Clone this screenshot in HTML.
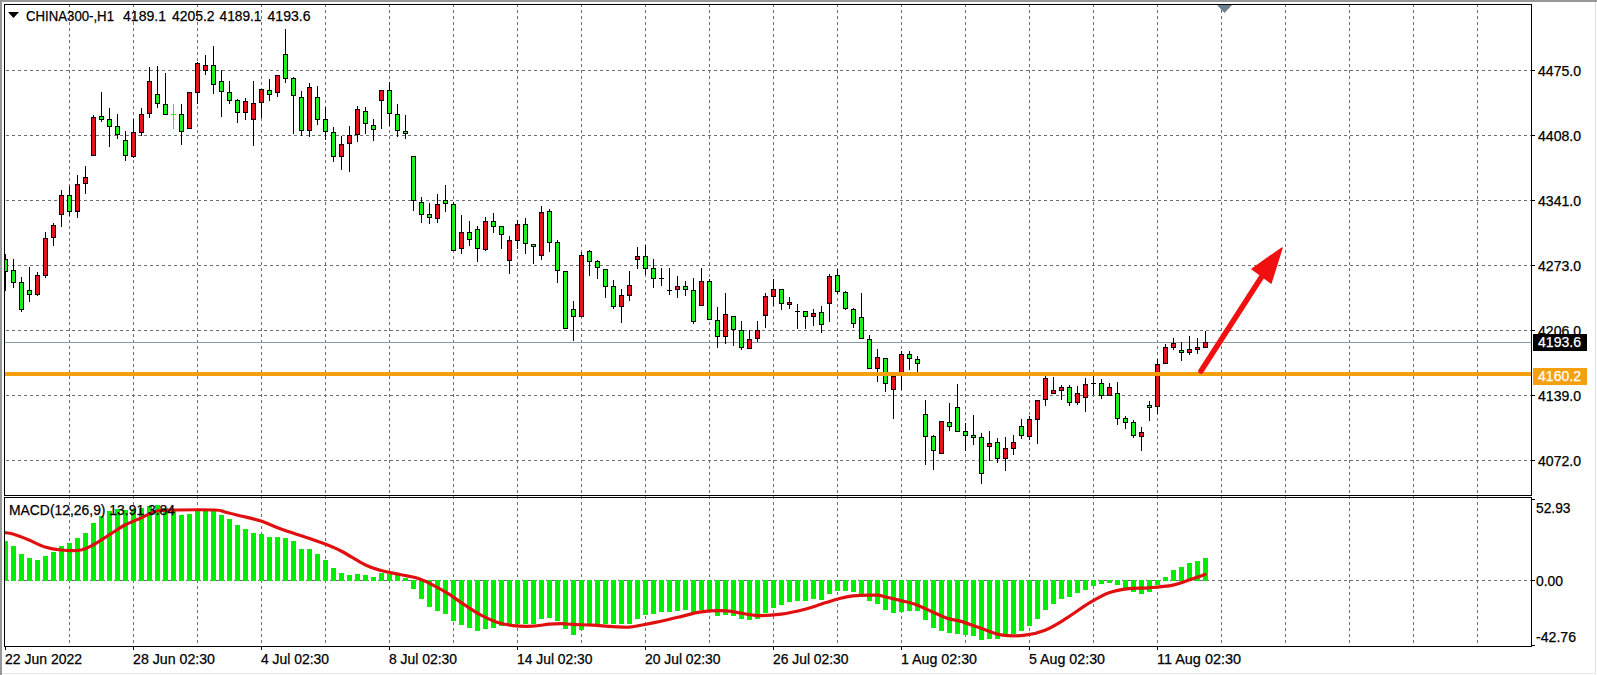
<!DOCTYPE html><html><head><meta charset="utf-8"><style>
html,body{margin:0;padding:0;background:#fff;width:1597px;height:675px;overflow:hidden}
svg{display:block}
text{font-family:"Liberation Sans",sans-serif;fill:#000}
</style></head><body>
<svg width="1597" height="675" viewBox="0 0 1597 675">
<rect x="0" y="0" width="1597" height="675" fill="#fff"/>
<g shape-rendering="crispEdges">
<rect x="0" y="0" width="1597" height="2" fill="#989898"/>
<rect x="0" y="0" width="2" height="675" fill="#989898"/>
<rect x="1595" y="2" width="1" height="672" fill="#e0e0e0"/>
<rect x="2" y="673" width="1594" height="1" fill="#e6e6e6"/>
</g>
<g shape-rendering="crispEdges" stroke="#6e6e6e" stroke-width="1" stroke-dasharray="3 3">
<line x1="69.5" y1="4" x2="69.5" y2="495"/>
<line x1="69.5" y1="496" x2="69.5" y2="646"/>
<line x1="133.5" y1="4" x2="133.5" y2="495"/>
<line x1="133.5" y1="496" x2="133.5" y2="646"/>
<line x1="197.5" y1="4" x2="197.5" y2="495"/>
<line x1="197.5" y1="496" x2="197.5" y2="646"/>
<line x1="261.5" y1="4" x2="261.5" y2="495"/>
<line x1="261.5" y1="496" x2="261.5" y2="646"/>
<line x1="325.5" y1="4" x2="325.5" y2="495"/>
<line x1="325.5" y1="496" x2="325.5" y2="646"/>
<line x1="389.5" y1="4" x2="389.5" y2="495"/>
<line x1="389.5" y1="496" x2="389.5" y2="646"/>
<line x1="453.5" y1="4" x2="453.5" y2="495"/>
<line x1="453.5" y1="496" x2="453.5" y2="646"/>
<line x1="517.5" y1="4" x2="517.5" y2="495"/>
<line x1="517.5" y1="496" x2="517.5" y2="646"/>
<line x1="581.5" y1="4" x2="581.5" y2="495"/>
<line x1="581.5" y1="496" x2="581.5" y2="646"/>
<line x1="645.5" y1="4" x2="645.5" y2="495"/>
<line x1="645.5" y1="496" x2="645.5" y2="646"/>
<line x1="709.5" y1="4" x2="709.5" y2="495"/>
<line x1="709.5" y1="496" x2="709.5" y2="646"/>
<line x1="773.5" y1="4" x2="773.5" y2="495"/>
<line x1="773.5" y1="496" x2="773.5" y2="646"/>
<line x1="837.5" y1="4" x2="837.5" y2="495"/>
<line x1="837.5" y1="496" x2="837.5" y2="646"/>
<line x1="901.5" y1="4" x2="901.5" y2="495"/>
<line x1="901.5" y1="496" x2="901.5" y2="646"/>
<line x1="965.5" y1="4" x2="965.5" y2="495"/>
<line x1="965.5" y1="496" x2="965.5" y2="646"/>
<line x1="1029.5" y1="4" x2="1029.5" y2="495"/>
<line x1="1029.5" y1="496" x2="1029.5" y2="646"/>
<line x1="1093.5" y1="4" x2="1093.5" y2="495"/>
<line x1="1093.5" y1="496" x2="1093.5" y2="646"/>
<line x1="1157.5" y1="4" x2="1157.5" y2="495"/>
<line x1="1157.5" y1="496" x2="1157.5" y2="646"/>
<line x1="1221.5" y1="4" x2="1221.5" y2="495"/>
<line x1="1221.5" y1="496" x2="1221.5" y2="646"/>
<line x1="1285.5" y1="4" x2="1285.5" y2="495"/>
<line x1="1285.5" y1="496" x2="1285.5" y2="646"/>
<line x1="1349.5" y1="4" x2="1349.5" y2="495"/>
<line x1="1349.5" y1="496" x2="1349.5" y2="646"/>
<line x1="1413.5" y1="4" x2="1413.5" y2="495"/>
<line x1="1413.5" y1="496" x2="1413.5" y2="646"/>
<line x1="1477.5" y1="4" x2="1477.5" y2="495"/>
<line x1="1477.5" y1="496" x2="1477.5" y2="646"/>
<line x1="6" y1="70.5" x2="1531" y2="70.5"/>
<line x1="6" y1="135.5" x2="1531" y2="135.5"/>
<line x1="6" y1="200.5" x2="1531" y2="200.5"/>
<line x1="6" y1="265.5" x2="1531" y2="265.5"/>
<line x1="6" y1="330.5" x2="1531" y2="330.5"/>
<line x1="6" y1="395.5" x2="1531" y2="395.5"/>
<line x1="6" y1="460.5" x2="1531" y2="460.5"/>
<line x1="6" y1="580.5" x2="1531" y2="580.5"/>
</g>
<rect x="5" y="342" width="1526" height="1" fill="#8c9aa6" shape-rendering="crispEdges"/>
<defs><clipPath id="cm"><rect x="5" y="5" width="1526" height="490"/></clipPath>
<clipPath id="cd"><rect x="5" y="498" width="1526" height="148"/></clipPath></defs>
<g clip-path="url(#cm)" shape-rendering="crispEdges">
<rect x="5" y="254" width="1" height="37" fill="#000"/>
<rect x="3" y="259" width="5" height="13" fill="#000"/>
<rect x="4" y="260" width="3" height="11" fill="#1ef01e"/>
<rect x="13" y="259" width="1" height="29" fill="#000"/>
<rect x="11" y="270" width="5" height="13" fill="#000"/>
<rect x="12" y="271" width="3" height="11" fill="#1ef01e"/>
<rect x="21" y="277" width="1" height="35" fill="#000"/>
<rect x="19" y="282" width="5" height="28" fill="#000"/>
<rect x="20" y="283" width="3" height="26" fill="#1ef01e"/>
<rect x="29" y="267" width="1" height="35" fill="#000"/>
<rect x="27" y="290" width="5" height="5" fill="#000"/>
<rect x="28" y="291" width="3" height="3" fill="#1ef01e"/>
<rect x="37" y="272" width="1" height="24" fill="#000"/>
<rect x="35" y="275" width="5" height="20" fill="#000"/>
<rect x="36" y="276" width="3" height="18" fill="#e8121c"/>
<rect x="45" y="232" width="1" height="46" fill="#000"/>
<rect x="43" y="238" width="5" height="38" fill="#000"/>
<rect x="44" y="239" width="3" height="36" fill="#e8121c"/>
<rect x="53" y="223" width="1" height="23" fill="#000"/>
<rect x="51" y="225" width="5" height="13" fill="#000"/>
<rect x="52" y="226" width="3" height="11" fill="#e8121c"/>
<rect x="61" y="190" width="1" height="37" fill="#000"/>
<rect x="59" y="195" width="5" height="20" fill="#000"/>
<rect x="60" y="196" width="3" height="18" fill="#e8121c"/>
<rect x="69" y="186" width="1" height="30" fill="#000"/>
<rect x="67" y="195" width="5" height="17" fill="#000"/>
<rect x="68" y="196" width="3" height="15" fill="#1ef01e"/>
<rect x="77" y="175" width="1" height="43" fill="#000"/>
<rect x="75" y="184" width="5" height="28" fill="#000"/>
<rect x="76" y="185" width="3" height="26" fill="#e8121c"/>
<rect x="85" y="166" width="1" height="28" fill="#000"/>
<rect x="83" y="177" width="5" height="7" fill="#000"/>
<rect x="84" y="178" width="3" height="5" fill="#e8121c"/>
<rect x="93" y="115" width="1" height="41" fill="#000"/>
<rect x="91" y="117" width="5" height="39" fill="#000"/>
<rect x="92" y="118" width="3" height="37" fill="#e8121c"/>
<rect x="101" y="92" width="1" height="30" fill="#000"/>
<rect x="99" y="116" width="5" height="4" fill="#000"/>
<rect x="100" y="117" width="3" height="2" fill="#1ef01e"/>
<rect x="109" y="108" width="1" height="39" fill="#000"/>
<rect x="107" y="119" width="5" height="8" fill="#000"/>
<rect x="108" y="120" width="3" height="6" fill="#1ef01e"/>
<rect x="117" y="114" width="1" height="25" fill="#000"/>
<rect x="115" y="126" width="5" height="9" fill="#000"/>
<rect x="116" y="127" width="3" height="7" fill="#1ef01e"/>
<rect x="125" y="131" width="1" height="30" fill="#000"/>
<rect x="123" y="140" width="5" height="16" fill="#000"/>
<rect x="124" y="141" width="3" height="14" fill="#1ef01e"/>
<rect x="133" y="119" width="1" height="39" fill="#000"/>
<rect x="131" y="132" width="5" height="25" fill="#000"/>
<rect x="132" y="133" width="3" height="23" fill="#e8121c"/>
<rect x="141" y="108" width="1" height="28" fill="#000"/>
<rect x="139" y="114" width="5" height="19" fill="#000"/>
<rect x="140" y="115" width="3" height="17" fill="#e8121c"/>
<rect x="149" y="67" width="1" height="51" fill="#000"/>
<rect x="147" y="81" width="5" height="33" fill="#000"/>
<rect x="148" y="82" width="3" height="31" fill="#e8121c"/>
<rect x="157" y="66" width="1" height="42" fill="#000"/>
<rect x="155" y="94" width="5" height="10" fill="#000"/>
<rect x="156" y="95" width="3" height="8" fill="#1ef01e"/>
<rect x="165" y="73" width="1" height="42" fill="#000"/>
<rect x="163" y="104" width="5" height="11" fill="#000"/>
<rect x="164" y="105" width="3" height="9" fill="#1ef01e"/>
<rect x="173" y="104" width="1" height="25" fill="#1ef01e"/>
<rect x="171" y="114" width="5" height="1" fill="#1ef01e"/>
<rect x="181" y="104" width="1" height="41" fill="#000"/>
<rect x="179" y="114" width="5" height="18" fill="#000"/>
<rect x="180" y="115" width="3" height="16" fill="#1ef01e"/>
<rect x="189" y="92" width="1" height="37" fill="#000"/>
<rect x="187" y="92" width="5" height="37" fill="#000"/>
<rect x="188" y="93" width="3" height="35" fill="#e8121c"/>
<rect x="197" y="62" width="1" height="42" fill="#000"/>
<rect x="195" y="63" width="5" height="30" fill="#000"/>
<rect x="196" y="64" width="3" height="28" fill="#e8121c"/>
<rect x="205" y="55" width="1" height="20" fill="#000"/>
<rect x="203" y="65" width="5" height="6" fill="#000"/>
<rect x="204" y="66" width="3" height="4" fill="#e8121c"/>
<rect x="213" y="46" width="1" height="48" fill="#000"/>
<rect x="211" y="65" width="5" height="20" fill="#000"/>
<rect x="212" y="66" width="3" height="18" fill="#1ef01e"/>
<rect x="221" y="70" width="1" height="47" fill="#000"/>
<rect x="219" y="81" width="5" height="11" fill="#000"/>
<rect x="220" y="82" width="3" height="9" fill="#1ef01e"/>
<rect x="229" y="81" width="1" height="23" fill="#000"/>
<rect x="227" y="92" width="5" height="9" fill="#000"/>
<rect x="228" y="93" width="3" height="7" fill="#1ef01e"/>
<rect x="237" y="99" width="1" height="24" fill="#000"/>
<rect x="235" y="100" width="5" height="13" fill="#000"/>
<rect x="236" y="101" width="3" height="11" fill="#1ef01e"/>
<rect x="245" y="98" width="1" height="22" fill="#000"/>
<rect x="243" y="101" width="5" height="12" fill="#000"/>
<rect x="244" y="102" width="3" height="10" fill="#e8121c"/>
<rect x="253" y="81" width="1" height="65" fill="#000"/>
<rect x="251" y="103" width="5" height="17" fill="#000"/>
<rect x="252" y="104" width="3" height="15" fill="#e8121c"/>
<rect x="261" y="89" width="1" height="29" fill="#000"/>
<rect x="259" y="89" width="5" height="14" fill="#000"/>
<rect x="260" y="90" width="3" height="12" fill="#e8121c"/>
<rect x="269" y="79" width="1" height="22" fill="#000"/>
<rect x="267" y="90" width="5" height="5" fill="#000"/>
<rect x="268" y="91" width="3" height="3" fill="#1ef01e"/>
<rect x="277" y="75" width="1" height="22" fill="#000"/>
<rect x="275" y="75" width="5" height="18" fill="#000"/>
<rect x="276" y="76" width="3" height="16" fill="#e8121c"/>
<rect x="285" y="29" width="1" height="54" fill="#000"/>
<rect x="283" y="54" width="5" height="25" fill="#000"/>
<rect x="284" y="55" width="3" height="23" fill="#1ef01e"/>
<rect x="293" y="77" width="1" height="57" fill="#000"/>
<rect x="291" y="78" width="5" height="18" fill="#000"/>
<rect x="292" y="79" width="3" height="16" fill="#1ef01e"/>
<rect x="301" y="91" width="1" height="45" fill="#000"/>
<rect x="299" y="97" width="5" height="34" fill="#000"/>
<rect x="300" y="98" width="3" height="32" fill="#1ef01e"/>
<rect x="309" y="83" width="1" height="54" fill="#000"/>
<rect x="307" y="87" width="5" height="44" fill="#000"/>
<rect x="308" y="88" width="3" height="42" fill="#e8121c"/>
<rect x="317" y="86" width="1" height="39" fill="#000"/>
<rect x="315" y="97" width="5" height="23" fill="#000"/>
<rect x="316" y="98" width="3" height="21" fill="#1ef01e"/>
<rect x="325" y="107" width="1" height="33" fill="#000"/>
<rect x="323" y="119" width="5" height="13" fill="#000"/>
<rect x="324" y="120" width="3" height="11" fill="#1ef01e"/>
<rect x="333" y="127" width="1" height="35" fill="#000"/>
<rect x="331" y="132" width="5" height="25" fill="#000"/>
<rect x="332" y="133" width="3" height="23" fill="#1ef01e"/>
<rect x="341" y="136" width="1" height="34" fill="#000"/>
<rect x="339" y="144" width="5" height="13" fill="#000"/>
<rect x="340" y="145" width="3" height="11" fill="#e8121c"/>
<rect x="349" y="126" width="1" height="46" fill="#000"/>
<rect x="347" y="135" width="5" height="9" fill="#000"/>
<rect x="348" y="136" width="3" height="7" fill="#e8121c"/>
<rect x="357" y="106" width="1" height="36" fill="#000"/>
<rect x="355" y="109" width="5" height="26" fill="#000"/>
<rect x="356" y="110" width="3" height="24" fill="#e8121c"/>
<rect x="365" y="107" width="1" height="27" fill="#000"/>
<rect x="363" y="111" width="5" height="13" fill="#000"/>
<rect x="364" y="112" width="3" height="11" fill="#1ef01e"/>
<rect x="373" y="119" width="1" height="22" fill="#000"/>
<rect x="371" y="125" width="5" height="5" fill="#000"/>
<rect x="372" y="126" width="3" height="3" fill="#1ef01e"/>
<rect x="381" y="90" width="1" height="39" fill="#000"/>
<rect x="379" y="90" width="5" height="11" fill="#000"/>
<rect x="380" y="91" width="3" height="9" fill="#e8121c"/>
<rect x="389" y="82" width="1" height="44" fill="#000"/>
<rect x="387" y="90" width="5" height="24" fill="#000"/>
<rect x="388" y="91" width="3" height="22" fill="#1ef01e"/>
<rect x="397" y="104" width="1" height="33" fill="#000"/>
<rect x="395" y="114" width="5" height="17" fill="#000"/>
<rect x="396" y="115" width="3" height="15" fill="#1ef01e"/>
<rect x="405" y="115" width="1" height="24" fill="#000"/>
<rect x="403" y="131" width="5" height="3" fill="#000"/>
<rect x="404" y="132" width="3" height="1" fill="#1ef01e"/>
<rect x="413" y="156" width="1" height="55" fill="#000"/>
<rect x="411" y="156" width="5" height="45" fill="#000"/>
<rect x="412" y="157" width="3" height="43" fill="#1ef01e"/>
<rect x="421" y="197" width="1" height="26" fill="#000"/>
<rect x="419" y="202" width="5" height="13" fill="#000"/>
<rect x="420" y="203" width="3" height="11" fill="#1ef01e"/>
<rect x="429" y="203" width="1" height="21" fill="#000"/>
<rect x="427" y="214" width="5" height="4" fill="#000"/>
<rect x="428" y="215" width="3" height="2" fill="#1ef01e"/>
<rect x="437" y="194" width="1" height="29" fill="#000"/>
<rect x="435" y="204" width="5" height="15" fill="#000"/>
<rect x="436" y="205" width="3" height="13" fill="#e8121c"/>
<rect x="445" y="185" width="1" height="27" fill="#000"/>
<rect x="443" y="200" width="5" height="4" fill="#000"/>
<rect x="444" y="201" width="3" height="2" fill="#1ef01e"/>
<rect x="453" y="202" width="1" height="49" fill="#000"/>
<rect x="451" y="204" width="5" height="47" fill="#000"/>
<rect x="452" y="205" width="3" height="45" fill="#1ef01e"/>
<rect x="461" y="215" width="1" height="39" fill="#000"/>
<rect x="459" y="232" width="5" height="17" fill="#000"/>
<rect x="460" y="233" width="3" height="15" fill="#e8121c"/>
<rect x="469" y="221" width="1" height="25" fill="#000"/>
<rect x="467" y="232" width="5" height="8" fill="#000"/>
<rect x="468" y="233" width="3" height="6" fill="#1ef01e"/>
<rect x="477" y="226" width="1" height="36" fill="#000"/>
<rect x="475" y="229" width="5" height="20" fill="#000"/>
<rect x="476" y="230" width="3" height="18" fill="#1ef01e"/>
<rect x="485" y="217" width="1" height="34" fill="#000"/>
<rect x="483" y="221" width="5" height="29" fill="#000"/>
<rect x="484" y="222" width="3" height="27" fill="#e8121c"/>
<rect x="493" y="213" width="1" height="20" fill="#000"/>
<rect x="491" y="221" width="5" height="6" fill="#000"/>
<rect x="492" y="222" width="3" height="4" fill="#1ef01e"/>
<rect x="501" y="226" width="1" height="23" fill="#000"/>
<rect x="499" y="226" width="5" height="9" fill="#000"/>
<rect x="500" y="227" width="3" height="7" fill="#1ef01e"/>
<rect x="509" y="236" width="1" height="38" fill="#000"/>
<rect x="507" y="240" width="5" height="21" fill="#000"/>
<rect x="508" y="241" width="3" height="19" fill="#e8121c"/>
<rect x="517" y="220" width="1" height="29" fill="#000"/>
<rect x="515" y="224" width="5" height="17" fill="#000"/>
<rect x="516" y="225" width="3" height="15" fill="#e8121c"/>
<rect x="525" y="218" width="1" height="36" fill="#000"/>
<rect x="523" y="224" width="5" height="20" fill="#000"/>
<rect x="524" y="225" width="3" height="18" fill="#1ef01e"/>
<rect x="533" y="244" width="1" height="20" fill="#000"/>
<rect x="531" y="244" width="5" height="3" fill="#000"/>
<rect x="532" y="245" width="3" height="1" fill="#1ef01e"/>
<rect x="541" y="206" width="1" height="54" fill="#000"/>
<rect x="539" y="212" width="5" height="44" fill="#000"/>
<rect x="540" y="213" width="3" height="42" fill="#e8121c"/>
<rect x="549" y="209" width="1" height="43" fill="#000"/>
<rect x="547" y="211" width="5" height="32" fill="#000"/>
<rect x="548" y="212" width="3" height="30" fill="#1ef01e"/>
<rect x="557" y="240" width="1" height="43" fill="#000"/>
<rect x="555" y="242" width="5" height="29" fill="#000"/>
<rect x="556" y="243" width="3" height="27" fill="#1ef01e"/>
<rect x="565" y="271" width="1" height="58" fill="#000"/>
<rect x="563" y="271" width="5" height="58" fill="#000"/>
<rect x="564" y="272" width="3" height="56" fill="#1ef01e"/>
<rect x="573" y="301" width="1" height="40" fill="#000"/>
<rect x="571" y="309" width="5" height="8" fill="#000"/>
<rect x="572" y="310" width="3" height="6" fill="#1ef01e"/>
<rect x="581" y="252" width="1" height="65" fill="#000"/>
<rect x="579" y="255" width="5" height="62" fill="#000"/>
<rect x="580" y="256" width="3" height="60" fill="#e8121c"/>
<rect x="589" y="250" width="1" height="26" fill="#000"/>
<rect x="587" y="251" width="5" height="11" fill="#000"/>
<rect x="588" y="252" width="3" height="9" fill="#1ef01e"/>
<rect x="597" y="260" width="1" height="19" fill="#000"/>
<rect x="595" y="261" width="5" height="7" fill="#000"/>
<rect x="596" y="262" width="3" height="5" fill="#1ef01e"/>
<rect x="605" y="269" width="1" height="29" fill="#000"/>
<rect x="603" y="269" width="5" height="18" fill="#000"/>
<rect x="604" y="270" width="3" height="16" fill="#1ef01e"/>
<rect x="613" y="280" width="1" height="29" fill="#000"/>
<rect x="611" y="286" width="5" height="21" fill="#000"/>
<rect x="612" y="287" width="3" height="19" fill="#1ef01e"/>
<rect x="621" y="289" width="1" height="34" fill="#000"/>
<rect x="619" y="295" width="5" height="12" fill="#000"/>
<rect x="620" y="296" width="3" height="10" fill="#e8121c"/>
<rect x="629" y="271" width="1" height="30" fill="#000"/>
<rect x="627" y="285" width="5" height="11" fill="#000"/>
<rect x="628" y="286" width="3" height="9" fill="#e8121c"/>
<rect x="637" y="247" width="1" height="22" fill="#000"/>
<rect x="635" y="256" width="5" height="4" fill="#000"/>
<rect x="636" y="257" width="3" height="2" fill="#e8121c"/>
<rect x="645" y="245" width="1" height="30" fill="#000"/>
<rect x="643" y="256" width="5" height="13" fill="#000"/>
<rect x="644" y="257" width="3" height="11" fill="#1ef01e"/>
<rect x="653" y="259" width="1" height="29" fill="#000"/>
<rect x="651" y="268" width="5" height="11" fill="#000"/>
<rect x="652" y="269" width="3" height="9" fill="#1ef01e"/>
<rect x="661" y="268" width="1" height="18" fill="#000"/>
<rect x="659" y="278" width="5" height="1" fill="#000"/>
<rect x="669" y="268" width="1" height="27" fill="#000"/>
<rect x="667" y="290" width="5" height="1" fill="#000"/>
<rect x="677" y="276" width="1" height="22" fill="#000"/>
<rect x="675" y="286" width="5" height="4" fill="#000"/>
<rect x="676" y="287" width="3" height="2" fill="#e8121c"/>
<rect x="685" y="281" width="1" height="15" fill="#000"/>
<rect x="683" y="286" width="5" height="4" fill="#000"/>
<rect x="684" y="287" width="3" height="2" fill="#1ef01e"/>
<rect x="693" y="278" width="1" height="46" fill="#000"/>
<rect x="691" y="290" width="5" height="32" fill="#000"/>
<rect x="692" y="291" width="3" height="30" fill="#1ef01e"/>
<rect x="701" y="268" width="1" height="38" fill="#000"/>
<rect x="699" y="281" width="5" height="25" fill="#000"/>
<rect x="700" y="282" width="3" height="23" fill="#e8121c"/>
<rect x="709" y="279" width="1" height="41" fill="#000"/>
<rect x="707" y="281" width="5" height="39" fill="#000"/>
<rect x="708" y="282" width="3" height="37" fill="#1ef01e"/>
<rect x="717" y="307" width="1" height="41" fill="#000"/>
<rect x="715" y="320" width="5" height="17" fill="#000"/>
<rect x="716" y="321" width="3" height="15" fill="#1ef01e"/>
<rect x="725" y="293" width="1" height="51" fill="#000"/>
<rect x="723" y="314" width="5" height="23" fill="#000"/>
<rect x="724" y="315" width="3" height="21" fill="#e8121c"/>
<rect x="733" y="316" width="1" height="30" fill="#000"/>
<rect x="731" y="316" width="5" height="14" fill="#000"/>
<rect x="732" y="317" width="3" height="12" fill="#1ef01e"/>
<rect x="741" y="321" width="1" height="29" fill="#000"/>
<rect x="739" y="330" width="5" height="18" fill="#000"/>
<rect x="740" y="331" width="3" height="16" fill="#1ef01e"/>
<rect x="749" y="330" width="1" height="19" fill="#000"/>
<rect x="747" y="339" width="5" height="10" fill="#000"/>
<rect x="748" y="340" width="3" height="8" fill="#e8121c"/>
<rect x="757" y="321" width="1" height="21" fill="#000"/>
<rect x="755" y="330" width="5" height="9" fill="#000"/>
<rect x="756" y="331" width="3" height="7" fill="#e8121c"/>
<rect x="765" y="293" width="1" height="35" fill="#000"/>
<rect x="763" y="296" width="5" height="20" fill="#000"/>
<rect x="764" y="297" width="3" height="18" fill="#e8121c"/>
<rect x="773" y="279" width="1" height="27" fill="#000"/>
<rect x="771" y="289" width="5" height="8" fill="#000"/>
<rect x="772" y="290" width="3" height="6" fill="#e8121c"/>
<rect x="781" y="289" width="1" height="21" fill="#000"/>
<rect x="779" y="289" width="5" height="15" fill="#000"/>
<rect x="780" y="290" width="3" height="13" fill="#1ef01e"/>
<rect x="789" y="297" width="1" height="12" fill="#000"/>
<rect x="787" y="302" width="5" height="3" fill="#000"/>
<rect x="788" y="303" width="3" height="1" fill="#e8121c"/>
<rect x="797" y="304" width="1" height="25" fill="#000"/>
<rect x="795" y="311" width="5" height="1" fill="#000"/>
<rect x="805" y="311" width="1" height="18" fill="#000"/>
<rect x="803" y="311" width="5" height="6" fill="#000"/>
<rect x="804" y="312" width="3" height="4" fill="#1ef01e"/>
<rect x="813" y="309" width="1" height="17" fill="#000"/>
<rect x="811" y="313" width="5" height="4" fill="#000"/>
<rect x="812" y="314" width="3" height="2" fill="#e8121c"/>
<rect x="821" y="306" width="1" height="27" fill="#000"/>
<rect x="819" y="312" width="5" height="13" fill="#000"/>
<rect x="820" y="313" width="3" height="11" fill="#1ef01e"/>
<rect x="829" y="274" width="1" height="48" fill="#000"/>
<rect x="827" y="276" width="5" height="28" fill="#000"/>
<rect x="828" y="277" width="3" height="26" fill="#e8121c"/>
<rect x="837" y="269" width="1" height="25" fill="#000"/>
<rect x="835" y="275" width="5" height="17" fill="#000"/>
<rect x="836" y="276" width="3" height="15" fill="#1ef01e"/>
<rect x="845" y="291" width="1" height="19" fill="#000"/>
<rect x="843" y="292" width="5" height="17" fill="#000"/>
<rect x="844" y="293" width="3" height="15" fill="#1ef01e"/>
<rect x="853" y="308" width="1" height="20" fill="#000"/>
<rect x="851" y="309" width="5" height="15" fill="#000"/>
<rect x="852" y="310" width="3" height="13" fill="#1ef01e"/>
<rect x="861" y="293" width="1" height="46" fill="#000"/>
<rect x="859" y="317" width="5" height="22" fill="#000"/>
<rect x="860" y="318" width="3" height="20" fill="#1ef01e"/>
<rect x="869" y="335" width="1" height="34" fill="#000"/>
<rect x="867" y="339" width="5" height="30" fill="#000"/>
<rect x="868" y="340" width="3" height="28" fill="#1ef01e"/>
<rect x="877" y="349" width="1" height="33" fill="#000"/>
<rect x="875" y="357" width="5" height="12" fill="#000"/>
<rect x="876" y="358" width="3" height="10" fill="#e8121c"/>
<rect x="885" y="358" width="1" height="34" fill="#000"/>
<rect x="883" y="358" width="5" height="26" fill="#000"/>
<rect x="884" y="359" width="3" height="24" fill="#1ef01e"/>
<rect x="893" y="376" width="1" height="43" fill="#000"/>
<rect x="891" y="376" width="5" height="14" fill="#000"/>
<rect x="892" y="377" width="3" height="12" fill="#e8121c"/>
<rect x="901" y="351" width="1" height="39" fill="#000"/>
<rect x="899" y="354" width="5" height="22" fill="#000"/>
<rect x="900" y="355" width="3" height="20" fill="#e8121c"/>
<rect x="909" y="351" width="1" height="19" fill="#000"/>
<rect x="907" y="354" width="5" height="5" fill="#000"/>
<rect x="908" y="355" width="3" height="3" fill="#1ef01e"/>
<rect x="917" y="356" width="1" height="16" fill="#000"/>
<rect x="915" y="359" width="5" height="5" fill="#000"/>
<rect x="916" y="360" width="3" height="3" fill="#1ef01e"/>
<rect x="925" y="400" width="1" height="65" fill="#000"/>
<rect x="923" y="414" width="5" height="23" fill="#000"/>
<rect x="924" y="415" width="3" height="21" fill="#1ef01e"/>
<rect x="933" y="435" width="1" height="35" fill="#000"/>
<rect x="931" y="436" width="5" height="15" fill="#000"/>
<rect x="932" y="437" width="3" height="13" fill="#1ef01e"/>
<rect x="941" y="421" width="1" height="33" fill="#000"/>
<rect x="939" y="421" width="5" height="33" fill="#000"/>
<rect x="940" y="422" width="3" height="31" fill="#e8121c"/>
<rect x="949" y="403" width="1" height="28" fill="#000"/>
<rect x="947" y="422" width="5" height="5" fill="#000"/>
<rect x="948" y="423" width="3" height="3" fill="#1ef01e"/>
<rect x="957" y="384" width="1" height="48" fill="#000"/>
<rect x="955" y="407" width="5" height="25" fill="#000"/>
<rect x="956" y="408" width="3" height="23" fill="#1ef01e"/>
<rect x="965" y="423" width="1" height="28" fill="#000"/>
<rect x="963" y="431" width="5" height="5" fill="#000"/>
<rect x="964" y="432" width="3" height="3" fill="#1ef01e"/>
<rect x="973" y="415" width="1" height="30" fill="#000"/>
<rect x="971" y="435" width="5" height="3" fill="#000"/>
<rect x="972" y="436" width="3" height="1" fill="#1ef01e"/>
<rect x="981" y="433" width="1" height="51" fill="#000"/>
<rect x="979" y="437" width="5" height="37" fill="#000"/>
<rect x="980" y="438" width="3" height="35" fill="#1ef01e"/>
<rect x="989" y="431" width="1" height="30" fill="#000"/>
<rect x="987" y="443" width="5" height="4" fill="#000"/>
<rect x="988" y="444" width="3" height="2" fill="#e8121c"/>
<rect x="997" y="438" width="1" height="25" fill="#000"/>
<rect x="995" y="442" width="5" height="17" fill="#000"/>
<rect x="996" y="443" width="3" height="15" fill="#1ef01e"/>
<rect x="1005" y="437" width="1" height="34" fill="#000"/>
<rect x="1003" y="448" width="5" height="11" fill="#000"/>
<rect x="1004" y="449" width="3" height="9" fill="#e8121c"/>
<rect x="1013" y="435" width="1" height="20" fill="#000"/>
<rect x="1011" y="442" width="5" height="7" fill="#000"/>
<rect x="1012" y="443" width="3" height="5" fill="#e8121c"/>
<rect x="1021" y="419" width="1" height="20" fill="#000"/>
<rect x="1019" y="426" width="5" height="10" fill="#000"/>
<rect x="1020" y="427" width="3" height="8" fill="#1ef01e"/>
<rect x="1029" y="416" width="1" height="24" fill="#000"/>
<rect x="1027" y="419" width="5" height="18" fill="#000"/>
<rect x="1028" y="420" width="3" height="16" fill="#e8121c"/>
<rect x="1037" y="400" width="1" height="44" fill="#000"/>
<rect x="1035" y="400" width="5" height="20" fill="#000"/>
<rect x="1036" y="401" width="3" height="18" fill="#e8121c"/>
<rect x="1045" y="376" width="1" height="30" fill="#000"/>
<rect x="1043" y="378" width="5" height="22" fill="#000"/>
<rect x="1044" y="379" width="3" height="20" fill="#e8121c"/>
<rect x="1053" y="377" width="1" height="17" fill="#000"/>
<rect x="1051" y="390" width="5" height="4" fill="#000"/>
<rect x="1052" y="391" width="3" height="2" fill="#e8121c"/>
<rect x="1061" y="385" width="1" height="15" fill="#000"/>
<rect x="1059" y="387" width="5" height="4" fill="#000"/>
<rect x="1060" y="388" width="3" height="2" fill="#e8121c"/>
<rect x="1069" y="385" width="1" height="21" fill="#000"/>
<rect x="1067" y="387" width="5" height="16" fill="#000"/>
<rect x="1068" y="388" width="3" height="14" fill="#1ef01e"/>
<rect x="1077" y="386" width="1" height="19" fill="#000"/>
<rect x="1075" y="393" width="5" height="10" fill="#000"/>
<rect x="1076" y="394" width="3" height="8" fill="#e8121c"/>
<rect x="1085" y="378" width="1" height="34" fill="#000"/>
<rect x="1083" y="384" width="5" height="14" fill="#000"/>
<rect x="1084" y="385" width="3" height="12" fill="#e8121c"/>
<rect x="1093" y="376" width="1" height="19" fill="#000"/>
<rect x="1091" y="383" width="5" height="1" fill="#000"/>
<rect x="1101" y="379" width="1" height="20" fill="#000"/>
<rect x="1099" y="383" width="5" height="13" fill="#000"/>
<rect x="1100" y="384" width="3" height="11" fill="#1ef01e"/>
<rect x="1109" y="383" width="1" height="13" fill="#000"/>
<rect x="1107" y="387" width="5" height="9" fill="#000"/>
<rect x="1108" y="388" width="3" height="7" fill="#e8121c"/>
<rect x="1117" y="382" width="1" height="43" fill="#000"/>
<rect x="1115" y="393" width="5" height="26" fill="#000"/>
<rect x="1116" y="394" width="3" height="24" fill="#1ef01e"/>
<rect x="1125" y="416" width="1" height="13" fill="#000"/>
<rect x="1123" y="418" width="5" height="5" fill="#000"/>
<rect x="1124" y="419" width="3" height="3" fill="#1ef01e"/>
<rect x="1133" y="420" width="1" height="18" fill="#000"/>
<rect x="1131" y="422" width="5" height="14" fill="#000"/>
<rect x="1132" y="423" width="3" height="12" fill="#1ef01e"/>
<rect x="1141" y="427" width="1" height="24" fill="#000"/>
<rect x="1139" y="432" width="5" height="5" fill="#000"/>
<rect x="1140" y="433" width="3" height="3" fill="#e8121c"/>
<rect x="1149" y="401" width="1" height="20" fill="#000"/>
<rect x="1147" y="405" width="5" height="3" fill="#000"/>
<rect x="1148" y="406" width="3" height="1" fill="#1ef01e"/>
<rect x="1157" y="359" width="1" height="55" fill="#000"/>
<rect x="1155" y="364" width="5" height="43" fill="#000"/>
<rect x="1156" y="365" width="3" height="41" fill="#e8121c"/>
<rect x="1165" y="344" width="1" height="20" fill="#000"/>
<rect x="1163" y="347" width="5" height="17" fill="#000"/>
<rect x="1164" y="348" width="3" height="15" fill="#e8121c"/>
<rect x="1173" y="338" width="1" height="12" fill="#000"/>
<rect x="1171" y="343" width="5" height="5" fill="#000"/>
<rect x="1172" y="344" width="3" height="3" fill="#e8121c"/>
<rect x="1181" y="342" width="1" height="19" fill="#000"/>
<rect x="1179" y="350" width="5" height="3" fill="#000"/>
<rect x="1180" y="351" width="3" height="1" fill="#1ef01e"/>
<rect x="1189" y="336" width="1" height="19" fill="#000"/>
<rect x="1187" y="349" width="5" height="4" fill="#000"/>
<rect x="1188" y="350" width="3" height="2" fill="#e8121c"/>
<rect x="1197" y="338" width="1" height="16" fill="#000"/>
<rect x="1195" y="347" width="5" height="3" fill="#000"/>
<rect x="1196" y="348" width="3" height="1" fill="#e8121c"/>
<rect x="1205" y="331" width="1" height="17" fill="#000"/>
<rect x="1203" y="342" width="5" height="6" fill="#000"/>
<rect x="1204" y="343" width="3" height="4" fill="#e8121c"/>
</g>
<rect x="5" y="372" width="1526" height="4" fill="#f5a00f" shape-rendering="crispEdges"/>
<line x1="1201" y1="371" x2="1266" y2="270" stroke="#f01010" stroke-width="5.5" stroke-linecap="round"/>
<polygon points="1252,269 1282,248 1271,283" fill="#f01010" stroke="#f01010" stroke-width="1.5" stroke-linejoin="round"/>
<polygon points="1217,5 1232,5 1224.5,13" fill="#6f7f8c"/>
<g clip-path="url(#cd)" shape-rendering="crispEdges">
<rect x="3" y="541" width="5" height="40" fill="#00ee00"/>
<rect x="11" y="546" width="5" height="35" fill="#00ee00"/>
<rect x="19" y="554" width="5" height="27" fill="#00ee00"/>
<rect x="27" y="558" width="5" height="23" fill="#00ee00"/>
<rect x="35" y="560" width="5" height="21" fill="#00ee00"/>
<rect x="43" y="556" width="5" height="25" fill="#00ee00"/>
<rect x="51" y="552" width="5" height="29" fill="#00ee00"/>
<rect x="59" y="546" width="5" height="35" fill="#00ee00"/>
<rect x="67" y="543" width="5" height="38" fill="#00ee00"/>
<rect x="75" y="538" width="5" height="43" fill="#00ee00"/>
<rect x="83" y="533" width="5" height="48" fill="#00ee00"/>
<rect x="91" y="523" width="5" height="58" fill="#00ee00"/>
<rect x="99" y="516" width="5" height="65" fill="#00ee00"/>
<rect x="107" y="511" width="5" height="70" fill="#00ee00"/>
<rect x="115" y="509" width="5" height="72" fill="#00ee00"/>
<rect x="123" y="510" width="5" height="71" fill="#00ee00"/>
<rect x="131" y="509" width="5" height="72" fill="#00ee00"/>
<rect x="139" y="508" width="5" height="73" fill="#00ee00"/>
<rect x="147" y="506" width="5" height="75" fill="#00ee00"/>
<rect x="155" y="505" width="5" height="76" fill="#00ee00"/>
<rect x="163" y="508" width="5" height="73" fill="#00ee00"/>
<rect x="171" y="509" width="5" height="72" fill="#00ee00"/>
<rect x="179" y="515" width="5" height="66" fill="#00ee00"/>
<rect x="187" y="514" width="5" height="67" fill="#00ee00"/>
<rect x="195" y="511" width="5" height="70" fill="#00ee00"/>
<rect x="203" y="511" width="5" height="70" fill="#00ee00"/>
<rect x="211" y="511" width="5" height="70" fill="#00ee00"/>
<rect x="219" y="515" width="5" height="66" fill="#00ee00"/>
<rect x="227" y="519" width="5" height="62" fill="#00ee00"/>
<rect x="235" y="525" width="5" height="56" fill="#00ee00"/>
<rect x="243" y="529" width="5" height="52" fill="#00ee00"/>
<rect x="251" y="533" width="5" height="48" fill="#00ee00"/>
<rect x="259" y="534" width="5" height="47" fill="#00ee00"/>
<rect x="267" y="537" width="5" height="44" fill="#00ee00"/>
<rect x="275" y="537" width="5" height="44" fill="#00ee00"/>
<rect x="283" y="538" width="5" height="43" fill="#00ee00"/>
<rect x="291" y="541" width="5" height="40" fill="#00ee00"/>
<rect x="299" y="549" width="5" height="32" fill="#00ee00"/>
<rect x="307" y="549" width="5" height="32" fill="#00ee00"/>
<rect x="315" y="554" width="5" height="27" fill="#00ee00"/>
<rect x="323" y="560" width="5" height="21" fill="#00ee00"/>
<rect x="331" y="568" width="5" height="13" fill="#00ee00"/>
<rect x="339" y="573" width="5" height="8" fill="#00ee00"/>
<rect x="347" y="575" width="5" height="6" fill="#00ee00"/>
<rect x="355" y="574" width="5" height="7" fill="#00ee00"/>
<rect x="363" y="575" width="5" height="6" fill="#00ee00"/>
<rect x="371" y="577" width="5" height="4" fill="#00ee00"/>
<rect x="379" y="573" width="5" height="8" fill="#00ee00"/>
<rect x="387" y="574" width="5" height="7" fill="#00ee00"/>
<rect x="395" y="575" width="5" height="6" fill="#00ee00"/>
<rect x="403" y="578" width="5" height="3" fill="#00ee00"/>
<rect x="411" y="580" width="5" height="9" fill="#00ee00"/>
<rect x="419" y="580" width="5" height="19" fill="#00ee00"/>
<rect x="427" y="580" width="5" height="27" fill="#00ee00"/>
<rect x="435" y="580" width="5" height="31" fill="#00ee00"/>
<rect x="443" y="580" width="5" height="34" fill="#00ee00"/>
<rect x="451" y="580" width="5" height="41" fill="#00ee00"/>
<rect x="459" y="580" width="5" height="45" fill="#00ee00"/>
<rect x="467" y="580" width="5" height="48" fill="#00ee00"/>
<rect x="475" y="580" width="5" height="51" fill="#00ee00"/>
<rect x="483" y="580" width="5" height="49" fill="#00ee00"/>
<rect x="491" y="580" width="5" height="48" fill="#00ee00"/>
<rect x="499" y="580" width="5" height="46" fill="#00ee00"/>
<rect x="507" y="580" width="5" height="44" fill="#00ee00"/>
<rect x="515" y="580" width="5" height="44" fill="#00ee00"/>
<rect x="523" y="580" width="5" height="44" fill="#00ee00"/>
<rect x="531" y="580" width="5" height="44" fill="#00ee00"/>
<rect x="539" y="580" width="5" height="39" fill="#00ee00"/>
<rect x="547" y="580" width="5" height="38" fill="#00ee00"/>
<rect x="555" y="580" width="5" height="41" fill="#00ee00"/>
<rect x="563" y="580" width="5" height="49" fill="#00ee00"/>
<rect x="571" y="580" width="5" height="55" fill="#00ee00"/>
<rect x="579" y="580" width="5" height="50" fill="#00ee00"/>
<rect x="587" y="580" width="5" height="46" fill="#00ee00"/>
<rect x="595" y="580" width="5" height="44" fill="#00ee00"/>
<rect x="603" y="580" width="5" height="44" fill="#00ee00"/>
<rect x="611" y="580" width="5" height="44" fill="#00ee00"/>
<rect x="619" y="580" width="5" height="44" fill="#00ee00"/>
<rect x="627" y="580" width="5" height="44" fill="#00ee00"/>
<rect x="635" y="580" width="5" height="39" fill="#00ee00"/>
<rect x="643" y="580" width="5" height="35" fill="#00ee00"/>
<rect x="651" y="580" width="5" height="34" fill="#00ee00"/>
<rect x="659" y="580" width="5" height="32" fill="#00ee00"/>
<rect x="667" y="580" width="5" height="32" fill="#00ee00"/>
<rect x="675" y="580" width="5" height="31" fill="#00ee00"/>
<rect x="683" y="580" width="5" height="30" fill="#00ee00"/>
<rect x="691" y="580" width="5" height="32" fill="#00ee00"/>
<rect x="699" y="580" width="5" height="30" fill="#00ee00"/>
<rect x="707" y="580" width="5" height="31" fill="#00ee00"/>
<rect x="715" y="580" width="5" height="36" fill="#00ee00"/>
<rect x="723" y="580" width="5" height="35" fill="#00ee00"/>
<rect x="731" y="580" width="5" height="36" fill="#00ee00"/>
<rect x="739" y="580" width="5" height="39" fill="#00ee00"/>
<rect x="747" y="580" width="5" height="40" fill="#00ee00"/>
<rect x="755" y="580" width="5" height="39" fill="#00ee00"/>
<rect x="763" y="580" width="5" height="33" fill="#00ee00"/>
<rect x="771" y="580" width="5" height="28" fill="#00ee00"/>
<rect x="779" y="580" width="5" height="25" fill="#00ee00"/>
<rect x="787" y="580" width="5" height="22" fill="#00ee00"/>
<rect x="795" y="580" width="5" height="21" fill="#00ee00"/>
<rect x="803" y="580" width="5" height="21" fill="#00ee00"/>
<rect x="811" y="580" width="5" height="19" fill="#00ee00"/>
<rect x="819" y="580" width="5" height="20" fill="#00ee00"/>
<rect x="827" y="580" width="5" height="14" fill="#00ee00"/>
<rect x="835" y="580" width="5" height="11" fill="#00ee00"/>
<rect x="843" y="580" width="5" height="11" fill="#00ee00"/>
<rect x="851" y="580" width="5" height="12" fill="#00ee00"/>
<rect x="859" y="580" width="5" height="15" fill="#00ee00"/>
<rect x="867" y="580" width="5" height="21" fill="#00ee00"/>
<rect x="875" y="580" width="5" height="24" fill="#00ee00"/>
<rect x="883" y="580" width="5" height="30" fill="#00ee00"/>
<rect x="891" y="580" width="5" height="33" fill="#00ee00"/>
<rect x="899" y="580" width="5" height="32" fill="#00ee00"/>
<rect x="907" y="580" width="5" height="31" fill="#00ee00"/>
<rect x="915" y="580" width="5" height="31" fill="#00ee00"/>
<rect x="923" y="580" width="5" height="40" fill="#00ee00"/>
<rect x="931" y="580" width="5" height="48" fill="#00ee00"/>
<rect x="939" y="580" width="5" height="51" fill="#00ee00"/>
<rect x="947" y="580" width="5" height="53" fill="#00ee00"/>
<rect x="955" y="580" width="5" height="54" fill="#00ee00"/>
<rect x="963" y="580" width="5" height="55" fill="#00ee00"/>
<rect x="971" y="580" width="5" height="56" fill="#00ee00"/>
<rect x="979" y="580" width="5" height="60" fill="#00ee00"/>
<rect x="987" y="580" width="5" height="59" fill="#00ee00"/>
<rect x="995" y="580" width="5" height="59" fill="#00ee00"/>
<rect x="1003" y="580" width="5" height="55" fill="#00ee00"/>
<rect x="1011" y="580" width="5" height="54" fill="#00ee00"/>
<rect x="1019" y="580" width="5" height="51" fill="#00ee00"/>
<rect x="1027" y="580" width="5" height="46" fill="#00ee00"/>
<rect x="1035" y="580" width="5" height="39" fill="#00ee00"/>
<rect x="1043" y="580" width="5" height="30" fill="#00ee00"/>
<rect x="1051" y="580" width="5" height="24" fill="#00ee00"/>
<rect x="1059" y="580" width="5" height="19" fill="#00ee00"/>
<rect x="1067" y="580" width="5" height="17" fill="#00ee00"/>
<rect x="1075" y="580" width="5" height="13" fill="#00ee00"/>
<rect x="1083" y="580" width="5" height="10" fill="#00ee00"/>
<rect x="1091" y="580" width="5" height="6" fill="#00ee00"/>
<rect x="1099" y="580" width="5" height="4" fill="#00ee00"/>
<rect x="1107" y="580" width="5" height="3" fill="#00ee00"/>
<rect x="1115" y="580" width="5" height="5" fill="#00ee00"/>
<rect x="1123" y="580" width="5" height="8" fill="#00ee00"/>
<rect x="1131" y="580" width="5" height="12" fill="#00ee00"/>
<rect x="1139" y="580" width="5" height="14" fill="#00ee00"/>
<rect x="1147" y="580" width="5" height="12" fill="#00ee00"/>
<rect x="1155" y="580" width="5" height="5" fill="#00ee00"/>
<rect x="1163" y="577" width="5" height="4" fill="#00ee00"/>
<rect x="1171" y="570" width="5" height="11" fill="#00ee00"/>
<rect x="1179" y="567" width="5" height="14" fill="#00ee00"/>
<rect x="1187" y="563" width="5" height="18" fill="#00ee00"/>
<rect x="1195" y="561" width="5" height="20" fill="#00ee00"/>
<rect x="1203" y="558" width="5" height="23" fill="#00ee00"/>
</g>
<path clip-path="url(#cd)" d="M4,532.5 C5.5,532.8 8.8,532.8 13,534 C17.2,535.2 23.7,537.8 29,540 C34.3,542.2 39.7,545.3 45,547 C50.3,548.7 55.0,549.5 61,550 C67.0,550.5 75.7,550.8 81,550 C86.3,549.2 88.3,547.5 93,545 C97.7,542.5 103.7,538.3 109,535 C114.3,531.7 119.7,527.8 125,525 C130.3,522.2 135.7,520.3 141,518 C146.3,515.7 151.0,512.3 157,511 C163.0,509.7 167.3,510.2 177,510 C186.7,509.8 207.0,509.7 215,510 C223.0,510.3 220.7,511.0 225,512 C229.3,513.0 235.0,514.5 241,516 C247.0,517.5 254.3,518.8 261,521 C267.7,523.2 274.2,526.5 281,529 C287.8,531.5 295.3,533.8 302,536 C308.7,538.2 314.5,540.0 321,542.5 C327.5,545.0 333.7,547.3 341,551 C348.3,554.7 358.3,561.5 365,564.7 C371.7,568.0 375.0,568.8 381,570.5 C387.0,572.2 395.0,573.4 401,574.7 C407.0,576.0 411.7,576.4 417,578.1 C422.3,579.8 427.7,582.4 433,585.1 C438.3,587.8 443.7,590.9 449,594.2 C454.3,597.6 459.7,601.7 465,605.2 C470.3,608.7 475.7,612.4 481,615.2 C486.3,618.0 491.7,620.5 497,622.2 C502.3,623.9 507.0,624.9 513,625.6 C519.0,626.3 527.0,626.4 533,626.2 C539.0,626.0 544.3,624.6 549,624.2 C553.7,623.8 557.0,623.6 561,623.6 C565.0,623.6 567.7,624.1 573,624.4 C578.3,624.7 586.3,624.8 593,625.2 C599.7,625.6 607.0,626.3 613,626.6 C619.0,626.9 624.3,627.4 629,627.2 C633.7,627.0 635.7,626.2 641,625.2 C646.3,624.2 654.3,622.6 661,621.2 C667.7,619.8 674.3,618.2 681,616.6 C687.7,615.0 693.3,612.8 701,611.8 C708.7,610.8 720.3,610.6 727,610.8 C733.7,611.0 736.0,612.4 741,613.2 C746.0,614.0 750.3,615.4 757,615.6 C763.7,615.8 773.0,615.3 781,614.2 C789.0,613.1 798.3,610.9 805,609.2 C811.7,607.5 815.7,605.9 821,604.2 C826.3,602.5 831.7,600.6 837,599.2 C842.3,597.8 846.3,596.5 853,595.8 C859.7,595.1 871.7,595.0 877,595.2 C882.3,595.4 881.0,595.9 885,596.8 C889.0,597.7 896.0,599.4 901,600.6 C906.0,601.8 910.0,602.4 915,604.2 C920.0,606.0 925.7,608.9 931,611.2 C936.3,613.5 942.0,616.5 947,618.2 C952.0,619.9 955.3,619.7 961,621.4 C966.7,623.1 974.3,626.0 981,628.2 C987.7,630.4 993.7,633.6 1001,634.8 C1008.3,636.0 1017.7,636.0 1025,635.2 C1032.3,634.4 1038.3,632.9 1045,630.2 C1051.7,627.5 1057.7,623.7 1065,619.2 C1072.3,614.7 1081.7,607.6 1089,603.2 C1096.3,598.8 1102.3,595.2 1109,592.8 C1115.7,590.4 1122.3,589.4 1129,588.6 C1135.7,587.8 1141.7,588.4 1149,587.8 C1156.3,587.2 1166.3,586.4 1173,585.1 C1179.7,583.8 1183.7,581.9 1189,580.1 C1194.3,578.3 1202.3,575.4 1205,574.5" fill="none" stroke="#e01010" stroke-width="3.2" stroke-linejoin="round" stroke-linecap="round"/>
<g shape-rendering="crispEdges" fill="none" stroke="#000" stroke-width="1">
<rect x="4.5" y="4.5" width="1527" height="491"/>
<rect x="4.5" y="497.5" width="1527" height="149"/>
</g>
<g shape-rendering="crispEdges" fill="#000">
<rect x="1532" y="70" width="3" height="1"/>
<rect x="1532" y="135" width="3" height="1"/>
<rect x="1532" y="200" width="3" height="1"/>
<rect x="1532" y="265" width="3" height="1"/>
<rect x="1532" y="330" width="3" height="1"/>
<rect x="1532" y="395" width="3" height="1"/>
<rect x="1532" y="460" width="3" height="1"/>
<rect x="1532" y="499" width="3" height="1"/>
<rect x="1532" y="580" width="3" height="1"/>
<rect x="1532" y="645" width="3" height="1"/>
<rect x="5" y="647" width="1" height="3"/>
<rect x="133" y="647" width="1" height="3"/>
<rect x="261" y="647" width="1" height="3"/>
<rect x="389" y="647" width="1" height="3"/>
<rect x="517" y="647" width="1" height="3"/>
<rect x="645" y="647" width="1" height="3"/>
<rect x="773" y="647" width="1" height="3"/>
<rect x="901" y="647" width="1" height="3"/>
<rect x="1029" y="647" width="1" height="3"/>
<rect x="1157" y="647" width="1" height="3"/>
</g>
<polygon points="8,12 19,12 13.5,18" fill="#000"/>
<text x="26" y="21" font-size="14.2" textLength="88" lengthAdjust="spacingAndGlyphs" stroke="#000" stroke-width="0.25">CHINA300-,H1</text>
<text x="123" y="21" font-size="14.2" textLength="43" lengthAdjust="spacingAndGlyphs" stroke="#000" stroke-width="0.25">4189.1</text>
<text x="172" y="21" font-size="14.2" textLength="42.5" lengthAdjust="spacingAndGlyphs" stroke="#000" stroke-width="0.25">4205.2</text>
<text x="219.5" y="21" font-size="14.2" textLength="42" lengthAdjust="spacingAndGlyphs" stroke="#000" stroke-width="0.25">4189.1</text>
<text x="267.5" y="21" font-size="14.2" textLength="43" lengthAdjust="spacingAndGlyphs" stroke="#000" stroke-width="0.25">4193.6</text>
<text x="1538" y="76" font-size="14.2" textLength="43" lengthAdjust="spacingAndGlyphs" stroke="#000" stroke-width="0.25">4475.0</text>
<text x="1538" y="141" font-size="14.2" textLength="43" lengthAdjust="spacingAndGlyphs" stroke="#000" stroke-width="0.25">4408.0</text>
<text x="1538" y="206" font-size="14.2" textLength="43" lengthAdjust="spacingAndGlyphs" stroke="#000" stroke-width="0.25">4341.0</text>
<text x="1538" y="271" font-size="14.2" textLength="43" lengthAdjust="spacingAndGlyphs" stroke="#000" stroke-width="0.25">4273.0</text>
<text x="1538" y="336" font-size="14.2" textLength="43" lengthAdjust="spacingAndGlyphs" stroke="#000" stroke-width="0.25">4206.0</text>
<text x="1538" y="401" font-size="14.2" textLength="43" lengthAdjust="spacingAndGlyphs" stroke="#000" stroke-width="0.25">4139.0</text>
<text x="1538" y="466" font-size="14.2" textLength="43" lengthAdjust="spacingAndGlyphs" stroke="#000" stroke-width="0.25">4072.0</text>
<rect x="1533" y="334" width="54" height="17" fill="#000" shape-rendering="crispEdges"/>
<text x="1538" y="347" font-size="14.2" textLength="43" lengthAdjust="spacingAndGlyphs" style="fill:#fff" stroke="#fff" stroke-width="0.25">4193.6</text>
<rect x="1533" y="368" width="54" height="17" fill="#f5a00f" shape-rendering="crispEdges"/>
<text x="1538" y="381" font-size="14.2" textLength="43" lengthAdjust="spacingAndGlyphs" style="fill:#fff" stroke="#fff" stroke-width="0.25">4160.2</text>
<text x="9" y="515" font-size="14.2" textLength="166" lengthAdjust="spacingAndGlyphs" stroke="#000" stroke-width="0.25">MACD(12,26,9) 13.91 3.84</text>
<text x="1536" y="513" font-size="14.2" textLength="34.5" lengthAdjust="spacingAndGlyphs" stroke="#000" stroke-width="0.25">52.93</text>
<text x="1536" y="586" font-size="14.2" textLength="27" lengthAdjust="spacingAndGlyphs" stroke="#000" stroke-width="0.25">0.00</text>
<text x="1536" y="642" font-size="14.2" textLength="40" lengthAdjust="spacingAndGlyphs" stroke="#000" stroke-width="0.25">-42.76</text>
<text x="5" y="664" font-size="14.2" textLength="77" lengthAdjust="spacingAndGlyphs" stroke="#000" stroke-width="0.25">22 Jun 2022</text>
<text x="133" y="664" font-size="14.2" textLength="82" lengthAdjust="spacingAndGlyphs" stroke="#000" stroke-width="0.25">28 Jun 02:30</text>
<text x="261" y="664" font-size="14.2" textLength="68" lengthAdjust="spacingAndGlyphs" stroke="#000" stroke-width="0.25">4 Jul 02:30</text>
<text x="389" y="664" font-size="14.2" textLength="68" lengthAdjust="spacingAndGlyphs" stroke="#000" stroke-width="0.25">8 Jul 02:30</text>
<text x="517" y="664" font-size="14.2" textLength="75.5" lengthAdjust="spacingAndGlyphs" stroke="#000" stroke-width="0.25">14 Jul 02:30</text>
<text x="645" y="664" font-size="14.2" textLength="75.5" lengthAdjust="spacingAndGlyphs" stroke="#000" stroke-width="0.25">20 Jul 02:30</text>
<text x="773" y="664" font-size="14.2" textLength="75.5" lengthAdjust="spacingAndGlyphs" stroke="#000" stroke-width="0.25">26 Jul 02:30</text>
<text x="901" y="664" font-size="14.2" textLength="76" lengthAdjust="spacingAndGlyphs" stroke="#000" stroke-width="0.25">1 Aug 02:30</text>
<text x="1029" y="664" font-size="14.2" textLength="76" lengthAdjust="spacingAndGlyphs" stroke="#000" stroke-width="0.25">5 Aug 02:30</text>
<text x="1157" y="664" font-size="14.2" textLength="84" lengthAdjust="spacingAndGlyphs" stroke="#000" stroke-width="0.25">11 Aug 02:30</text>
</svg></body></html>
